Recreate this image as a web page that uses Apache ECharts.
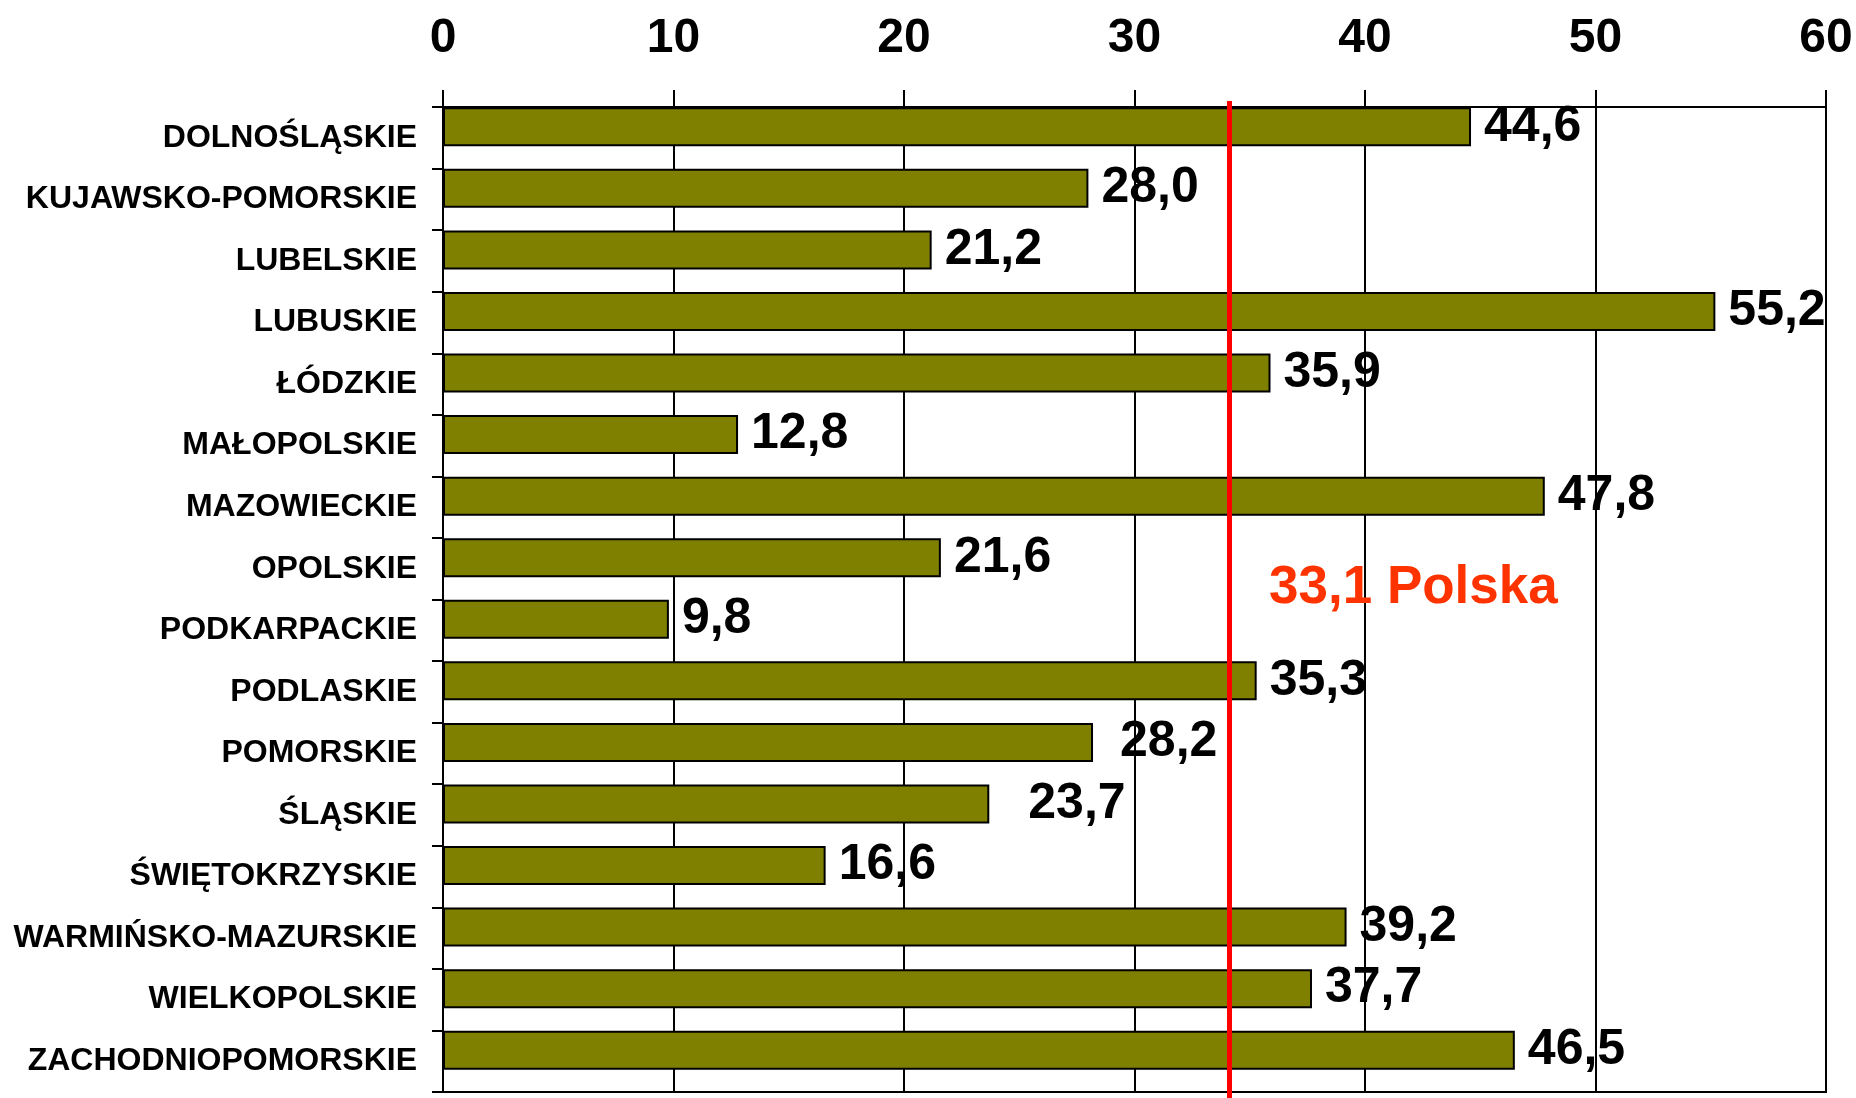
<!DOCTYPE html>
<html>
<head>
<meta charset="utf-8">
<title>Województwa</title>
<script src="https://cdn.jsdelivr.net/npm/echarts@6.0.0/dist/echarts.min.js"></script>
<style>
  html, body { margin: 0; padding: 0; background: #fff; }
  #chart { width: 1856px; height: 1098px; }
</style>
</head>
<body>
<div id="chart"></div>
<script>
var voivodeships = ['DOLNOŚLĄSKIE', 'KUJAWSKO-POMORSKIE', 'LUBELSKIE', 'LUBUSKIE', 'ŁÓDZKIE',
  'MAŁOPOLSKIE', 'MAZOWIECKIE', 'OPOLSKIE', 'PODKARPACKIE', 'PODLASKIE', 'POMORSKIE',
  'ŚLĄSKIE', 'ŚWIĘTOKRZYSKIE', 'WARMIŃSKO-MAZURSKIE', 'WIELKOPOLSKIE', 'ZACHODNIOPOMORSKIE'];
var values = [44.6, 28.0, 21.2, 55.2, 35.9, 12.8, 47.8, 21.6, 9.8, 35.3, 28.2, 23.7, 16.6, 39.2, 37.7, 46.5];
var axisTicks = [0, 10, 20, 30, 40, 50, 60];

var polskaValue = 33.1;   // text of the national average
var polskaLinePos = 34.1; // where the red line sits on the axis in the picture

var FONT = '"Liberation Sans", Arial, sans-serif';
var fmt = function (v) { return v.toFixed(1).replace('.', ','); };

// a few labels are nudged to the right in the original
var labelShift = { 'POMORSKIE': 14, 'ŚLĄSKIE': 26 };

var chart = echarts.init(document.getElementById('chart'));

var barData = values.map(function (v, i) {
  var item = { value: v };
  var dx = labelShift[voivodeships[i]];
  if (dx) item.label = { offset: [dx, 0] };
  return item;
});

var option = {
  animation: false,
  backgroundColor: '#fff',
  grid: [
    // axes, gridlines, labels
    { left: 443, right: 30, top: 107, bottom: 6, show: true, borderColor: '#000', borderWidth: 2,
      outerBoundsMode: 'none', containLabel: false },
    // bars sit at the top of each band, so shift them up
    { left: 443, right: 30, top: 96, bottom: 17, outerBoundsMode: 'none', containLabel: false },
    // red average line reaches down to the page edge
    { left: 443, right: 30, top: 101, bottom: 0, outerBoundsMode: 'none', containLabel: false }
  ],
  xAxis: [
    {
      gridIndex: 0, type: 'value', position: 'top',
      min: axisTicks[0], max: axisTicks[axisTicks.length - 1], interval: 10,
      axisLine: { show: true, lineStyle: { color: '#000', width: 2 } },
      axisTick: { show: true, inside: false, length: 17, lineStyle: { color: '#000', width: 2 } },
      splitLine: { show: true, lineStyle: { color: '#000', width: 2 } },
      axisLabel: { margin: 44, color: '#000', fontFamily: FONT, fontWeight: 'bold', fontSize: 48 }
    },
    { gridIndex: 1, type: 'value', min: 0, max: 60, show: false },
    { gridIndex: 2, type: 'value', min: 0, max: 60, show: false }
  ],
  yAxis: [
    {
      gridIndex: 0, type: 'category', inverse: true, data: voivodeships,
      axisLine: { show: true, lineStyle: { color: '#000', width: 2 } },
      axisTick: { show: true, inside: false, length: 11, lineStyle: { color: '#000', width: 2 } },
      splitLine: { show: false },
      axisLabel: { margin: 26, color: '#000', fontFamily: FONT, fontWeight: 'bold', fontSize: 32 }
    },
    { gridIndex: 1, type: 'category', inverse: true, data: voivodeships, show: false },
    { gridIndex: 2, type: 'value', min: 0, max: 1, show: false }
  ],
  series: [
    {
      type: 'bar',
      xAxisIndex: 1,
      yAxisIndex: 1,
      data: barData,
      barWidth: 39,
      itemStyle: { color: '#808000', borderColor: '#000', borderWidth: 2 },
      label: {
        show: true, position: 'right', distance: 13,
        color: '#000', fontFamily: FONT, fontWeight: 'bold', fontSize: 50,
        formatter: function (p) { return fmt(p.value); }
      },
      silent: true
    },
    {
      type: 'line',
      xAxisIndex: 2,
      yAxisIndex: 2,
      data: [],
      z: 5,
      markLine: {
        silent: true,
        symbol: 'none',
        animation: false,
        label: { show: false },
        lineStyle: { color: '#ff0000', width: 5, type: 'solid' },
        data: [{ xAxis: polskaLinePos }]
      }
    }
  ]
};

chart.setOption(option);

// average label, placed between OPOLSKIE and PODKARPACKIE right of the red line
var lineX = chart.convertToPixel({ xAxisIndex: 2 }, polskaLinePos);
var yA = chart.convertToPixel({ yAxisIndex: 1 }, 'OPOLSKIE');
var yB = chart.convertToPixel({ yAxisIndex: 1 }, 'PODKARPACKIE');
chart.setOption({
  graphic: [{
    type: 'text',
    x: lineX + 40,
    y: (yA + yB) / 2,
    z: 10,
    style: {
      text: fmt(polskaValue) + ' Polska',
      fill: '#ff3300',
      font: 'bold 53px ' + FONT,
      verticalAlign: 'middle'
    }
  }]
});
</script>
</body>
</html>
